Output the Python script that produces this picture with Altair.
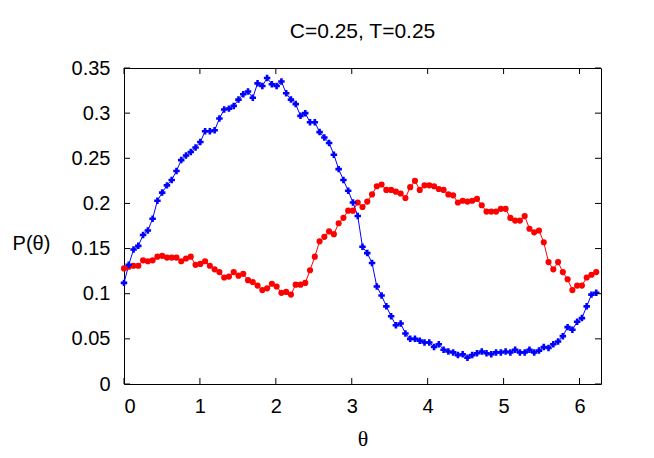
import math
import altair as alt
import pandas as pd

N_POINTS = 100
THETA_STEP = 2 * math.pi / N_POINTS

blue_p = [0.112, 0.132, 0.149, 0.153, 0.165, 0.170, 0.183, 0.203, 0.212, 0.220,
          0.226, 0.236, 0.248, 0.253, 0.257, 0.262, 0.268, 0.280, 0.280, 0.281,
          0.294, 0.304, 0.305, 0.308, 0.315, 0.321, 0.324, 0.317, 0.333, 0.330,
          0.339, 0.332, 0.330, 0.335, 0.322, 0.315, 0.310, 0.297, 0.300, 0.290,
          0.290, 0.279, 0.273, 0.267, 0.254, 0.238, 0.226, 0.214, 0.201, 0.186,
          0.152, 0.145, 0.134, 0.108, 0.098, 0.086, 0.075, 0.065, 0.067, 0.056,
          0.050, 0.050, 0.048, 0.046, 0.046, 0.041, 0.044, 0.038, 0.036, 0.035,
          0.032, 0.033, 0.029, 0.032, 0.034, 0.036, 0.034, 0.033, 0.035, 0.035,
          0.036, 0.035, 0.038, 0.035, 0.035, 0.038, 0.035, 0.037, 0.041, 0.040,
          0.044, 0.047, 0.053, 0.063, 0.060, 0.069, 0.073, 0.086, 0.099, 0.101]

red_p = [0.128, 0.130, 0.131, 0.131, 0.137, 0.136, 0.137, 0.141, 0.142, 0.140,
         0.140, 0.140, 0.136, 0.139, 0.141, 0.132, 0.133, 0.136, 0.131, 0.127,
         0.124, 0.118, 0.119, 0.124, 0.120, 0.122, 0.115, 0.113, 0.109, 0.104,
         0.106, 0.111, 0.108, 0.101, 0.102, 0.099, 0.110, 0.110, 0.112, 0.126,
         0.141, 0.158, 0.163, 0.169, 0.166, 0.178, 0.184, 0.192, 0.192, 0.201,
         0.196, 0.202, 0.210, 0.219, 0.221, 0.215, 0.215, 0.213, 0.211, 0.206,
         0.218, 0.225, 0.215, 0.220, 0.220, 0.219, 0.216, 0.215, 0.210, 0.209,
         0.201, 0.203, 0.202, 0.203, 0.205, 0.198, 0.191, 0.191, 0.191, 0.194,
         0.194, 0.184, 0.181, 0.181, 0.186, 0.172, 0.168, 0.170, 0.157, 0.135,
         0.127, 0.135, 0.124, 0.116, 0.104, 0.109, 0.109, 0.118, 0.121, 0.124]

x_ticks = [0, 1, 2, 3, 4, 5, 6]
y_ticks = [0, 0.05, 0.1, 0.15, 0.2, 0.25, 0.3, 0.35]
title_text = "C=0.25, T=0.25"

theta = [i * THETA_STEP for i in range(N_POINTS)]
df = pd.concat([
    pd.DataFrame({"theta": theta, "p": red_p, "series": "red"}),
    pd.DataFrame({"theta": theta, "p": blue_p, "series": "blue"}),
])

W, H = 477, 316
FONT = "Liberation Sans"

xs = alt.Scale(domain=[0, 2 * math.pi], nice=False, zero=False)
ys = alt.Scale(domain=[0, 0.35], nice=False, zero=False)
cs = alt.Scale(domain=["red", "blue"], range=["#ff0000", "#0000ff"])

x_enc = alt.X("theta:Q", scale=xs,
              axis=alt.Axis(values=x_ticks, format="d", title="θ",
                            titleFont="Liberation Serif", titleFontSize=22,
                            titleFontWeight="normal", titleY=54,
                            titleBaseline="middle"))
y_enc = alt.Y("p:Q", scale=ys,
              axis=alt.Axis(values=y_ticks, format="~g", title="P(θ)",
                            titleAngle=0, titleX=-93, titleY=175,
                            titleAlign="center", titleBaseline="middle",
                            titleFontSize=20, titleFontWeight="normal"))

base = alt.Chart(df)
lines = base.mark_line(strokeWidth=1).encode(
    x=x_enc, y=y_enc,
    color=alt.Color("series:N", scale=cs, legend=None),
    detail="series:N",
)
red_pts = alt.Chart(df[df.series == "red"]).mark_point(
    shape="circle", filled=True, size=38, opacity=1, color="#ff0000"
).encode(x=alt.X("theta:Q", scale=xs), y=alt.Y("p:Q", scale=ys))
blue_pts = alt.Chart(df[df.series == "blue"]).mark_point(
    shape="cross", filled=True, size=42, opacity=1, color="#0000ff"
).encode(x=alt.X("theta:Q", scale=xs), y=alt.Y("p:Q", scale=ys))

xt = pd.DataFrame({"t": x_ticks})
yt = pd.DataFrame({"t": y_ticks})
TL = 6
tick_bottom = alt.Chart(xt).mark_rule(color="black", strokeWidth=1).encode(
    x=alt.X("t:Q", scale=xs), y=alt.value(H), y2=alt.value(H - TL))
tick_top = alt.Chart(xt).mark_rule(color="black", strokeWidth=1).encode(
    x=alt.X("t:Q", scale=xs), y=alt.value(0), y2=alt.value(TL))
tick_left = alt.Chart(yt).mark_rule(color="black", strokeWidth=1).encode(
    y=alt.Y("t:Q", scale=ys), x=alt.value(0), x2=alt.value(TL))
tick_right = alt.Chart(yt).mark_rule(color="black", strokeWidth=1).encode(
    y=alt.Y("t:Q", scale=ys), x=alt.value(W), x2=alt.value(W - TL))

chart = alt.layer(
    lines, red_pts, blue_pts, tick_bottom, tick_top, tick_left, tick_right
).properties(
    width=W, height=H,
    padding={"left": 116, "top": 60, "right": 45, "bottom": 66},
    autosize=alt.AutoSizeParams(type="none"),
    title=alt.Title(title_text, fontSize=21, fontWeight="normal", font=FONT,
                    anchor="middle", offset=16, color="black"),
).configure_view(
    stroke="black", strokeWidth=1
).configure_axis(
    grid=False, ticks=False, domain=False,
    labelFont=FONT, labelFontSize=20, labelColor="black",
    titleFont=FONT, titleColor="black",
).configure_axisX(
    labelPadding=12
).configure_axisY(
    labelPadding=14
)

chart.save("out.html", embed_options={"renderer": "svg", "actions": False})
